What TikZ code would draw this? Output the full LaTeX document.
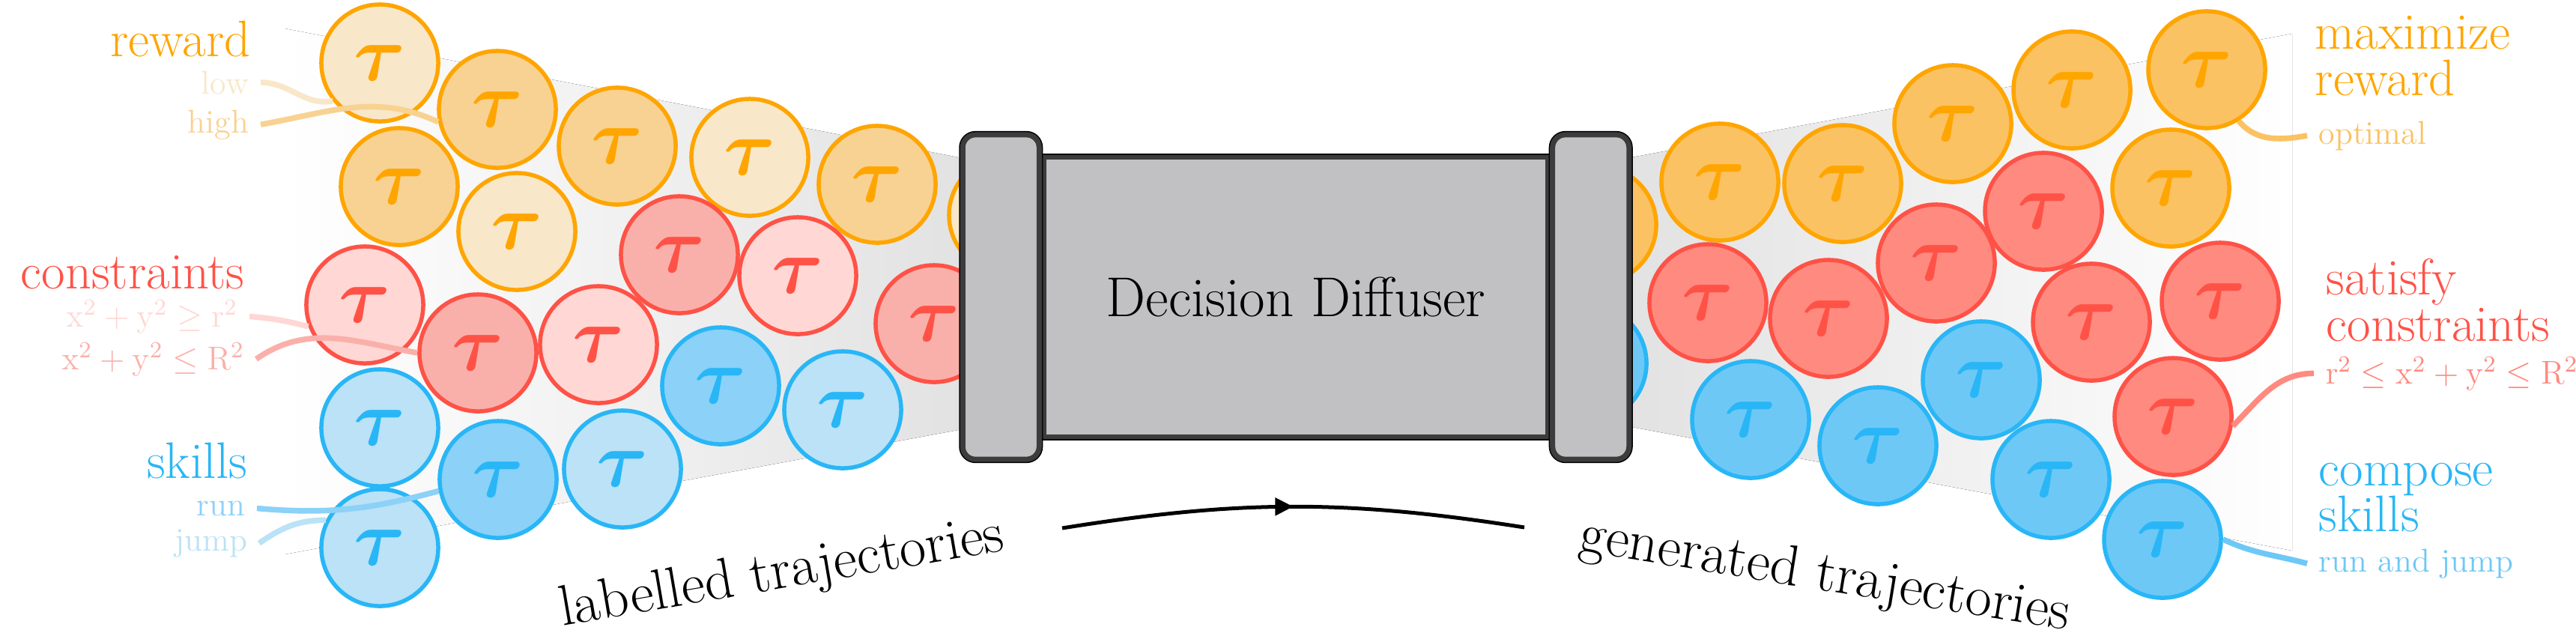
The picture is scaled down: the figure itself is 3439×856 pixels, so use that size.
\RequirePackage{fix-cm}
\documentclass[tikz,border=0pt]{standalone}
\usepackage{tikz}
\usepackage{xcolor}
\usepackage{amsmath}
\usepackage{bm}
\usetikzlibrary{arrows.meta,decorations.markings,positioning}
\definecolor{ddorange}{HTML}{FFA500}
\definecolor{ddred}{HTML}{FF5247}
\definecolor{ddblue}{HTML}{29B6F6}
\definecolor{orangelow}{HTML}{F8E7C9}
\definecolor{orangehigh}{HTML}{F8D292}
\definecolor{orangegen}{HTML}{FBC263}
\definecolor{redouter}{HTML}{FFD7D4}
\definecolor{redinner}{HTML}{FAB0AA}
\definecolor{redgen}{HTML}{FF8A80}
\definecolor{bluejump}{HTML}{BBE2F6}
\definecolor{bluerun}{HTML}{8BD1F8}
\definecolor{bluegen}{HTML}{6EC8F6}
\definecolor{diffgray}{HTML}{C1C1C3}
\definecolor{rimgray}{HTML}{3C3C3C}
\definecolor{funnelgray}{HTML}{E2E2E2}
\tikzset{
	trajectory/.style={circle,minimum size=1.56cm,inner sep=0pt,line width=0.055cm,font=\fontsize{30}{36}\selectfont},%
	orangetraj/.style={trajectory,draw=ddorange,text=ddorange},%
	redtraj/.style={trajectory,draw=ddred,text=ddred},%
	bluetraj/.style={trajectory,draw=ddblue,text=ddblue},%
	goal/.style={font=\fontsize{19.5}{17.4}\selectfont,inner sep=0pt},%
	condition/.style={font=\fontsize{12.5}{15}\selectfont,inner sep=0.15cm},%
	guide/.style={line width=0.075cm},%
	diffbody/.style={draw=rimgray,fill=diffgray,line width=0.06cm,preaction={draw=black,line width=0.09cm},minimum width=6.72cm,minimum height=3.73cm,inner sep=0pt,font=\fontsize{21.3}{25}\selectfont},%
	diffcap/.style={draw=rimgray,fill=diffgray,line width=0.07cm,preaction={draw=black,line width=0.1cm},rounded corners=0.17cm,minimum width=1.02cm,minimum height=4.33cm,inner sep=0pt},%
	flow/.style={line width=0.05cm,postaction={decorate},decoration={markings,mark=at position 0.5 with {\arrow{Triangle[length=0.24cm,width=0.23cm]}}}},%
	flowlabel/.style={font=\fontsize{21.8}{26}\selectfont,anchor=base},%
}
\def\tautext{$\bm{\tau}$}
\begin{document}
\begin{tikzpicture}[x=0.01cm,y=0.01cm]
	\useasboundingbox (0,0) rectangle (3439,-856);
	% grey funnels behind the trajectories
	\fill[left color=white,right color=funnelgray] (380,-38) -- (1290,-212) -- (1290,-572) -- (380,-740) -- cycle;
	\fill[left color=funnelgray,right color=white] (2168,-212) -- (3060,-45) -- (3060,-735) -- (2168,-568) -- cycle;
	% labelled trajectories
	\foreach \n/\x/\y/\c in {lo1/507/84/orangelow,lo2/533/249/orangehigh,lo3/664/146/orangehigh,lo4/690/309/orangelow,%
		lo5/824/195/orangehigh,lo6/1001/210/orangelow,lo7/1171/246/orangehigh,lo8/1345/287/orangelow}
		\node[orangetraj,fill=\c] (\n) at (\x,-\y) {\tautext};
	\foreach \n/\x/\y/\c in {lr1/487/407/redouter,lr2/638/471/redinner,lr3/799/460/redouter,lr4/907/340/redinner,%
		lr5/1065/368/redouter,lr6/1247/432/redinner}
		\node[redtraj,fill=\c] (\n) at (\x,-\y) {\tautext};
	\foreach \n/\x/\y/\c in {lb1/507/571/bluejump,lb2/507/731/bluejump,lb3/665/640/bluerun,lb4/831/626/bluejump,%
		lb5/962/515/bluerun,lb6/1125/547/bluejump}
		\node[bluetraj,fill=\c] (\n) at (\x,-\y) {\tautext};
	% generated trajectories
	\foreach \n/\x/\y in {ro1/2133/300,ro2/2296/243,ro3/2460/245,ro4/2607/165,ro5/2766/120,ro6/2946/93,ro7/2898/251}
		\node[orangetraj,fill=orangegen] (\n) at (\x,-\y) {\tautext};
	\foreach \n/\x/\y in {rr1/2280/404,rr2/2441/425,rr3/2585/351,rr4/2728/282,rr5/2792/430,rr6/2964/402,rr7/2901/556}
		\node[redtraj,fill=redgen] (\n) at (\x,-\y) {\tautext};
	\foreach \n/\x/\y in {rb1/2120/485,rb2/2337/560,rb3/2507/595,rb4/2645/507,rb5/2738/640,rb6/2887/720}
		\node[bluetraj,fill=bluegen] (\n) at (\x,-\y) {\tautext};
	% the model
	\node[diffbody] (diffuser) at (1730,-396.5) {Decision Diffuser};
	\node[diffcap,left=0cm of diffuser] (leftcap) {};
	\node[diffcap,right=0cm of diffuser] (rightcap) {};
	% conditioning labels
	\node[goal,text=ddorange,anchor=base east] (rewardlabel) at (335,-75) {reward};
	\node[condition,text=orangelow,anchor=base east] (lowlabel) at (348,-125) {low};
	\node[condition,text=orangehigh,anchor=base east] (highlabel) at (348,-177) {high};
	\node[goal,text=ddred,anchor=base east] (constraintlabel) at (327,-385) {constraints};
	\node[condition,text=redouter,anchor=base east] (outerlabel) at (333,-436) {$\mathrm{x}^2 + \mathrm{y}^2 \geq \mathrm{r}^2$};
	\node[condition,text=redinner,anchor=base east] (innerlabel) at (342,-493) {$\mathrm{x}^2 + \mathrm{y}^2 \leq \mathrm{R}^2$};
	\node[goal,text=ddblue,anchor=base east] (skilllabel) at (331,-638) {skills};
	\node[condition,text=bluerun,anchor=base east] (runlabel) at (343,-688) {run};
	\node[condition,text=bluejump,anchor=base east] (jumplabel) at (346,-735) {jump};
	\draw[guide,orangelow] (lowlabel.east) to[out=0,in=190] (lo1.219);
	\draw[guide,orangehigh] (highlabel.east) to[out=10,in=155] (lo3.192);
	\draw[guide,redouter] (outerlabel.east) to[out=-5,in=165] (lr1.201);
	\draw[guide,redinner] (innerlabel.east) to[out=35,in=170] (lr2.180);
	\draw[guide,bluerun] (runlabel.east) to[out=-5,in=195] (lb3.191);
	\draw[guide,bluejump] (jumplabel.east) to[out=35,in=180] (lb2.153);
	% goals of the generated trajectories
	\node[goal,text=ddorange,align=left,anchor=north west] (maxlabel) at (3090,-21) {maximize\\reward};
	\node[condition,text=orangegen,anchor=base west] (optimallabel) at (3080,-192) {optimal};
	\node[goal,text=ddred,align=left,anchor=north west] (satisfylabel) at (3105,-345) {satisfy\\constraints};
	\node[condition,text=redgen,anchor=base west] (rangelabel) at (3089,-512) {$\mathrm{r}^2 \leq \mathrm{x}^2 + \mathrm{y}^2 \leq \mathrm{R}^2$};
	\node[goal,text=ddblue,align=left,anchor=north west] (composelabel) at (3095,-617) {compose\\skills};
	\node[condition,text=bluegen,anchor=base west] (runjumplabel) at (3080,-763) {run and jump};
	\draw[guide,orangegen] (optimallabel.west) to[out=190,in=-50] (ro6.302);
	\draw[guide,redgen] (rangelabel.west) to[out=180,in=45] (rr7.-9);
	\draw[guide,bluegen] (runjumplabel.west) to[out=165,in=-25] (rb6.0);
	% flow from data to samples
	\coordinate (flowstart) at (1418,-705);
	\coordinate (flowend) at (2035,-704);
	\draw[flow] (flowstart) to[bend left=9] (flowend);
	\node[flowlabel,rotate=9.7] (labelled) at (1047,-785) {labelled trajectories};
	\node[flowlabel,rotate=-9.2] (generated) at (2433,-788) {generated trajectories};
\end{tikzpicture}
\end{document}
